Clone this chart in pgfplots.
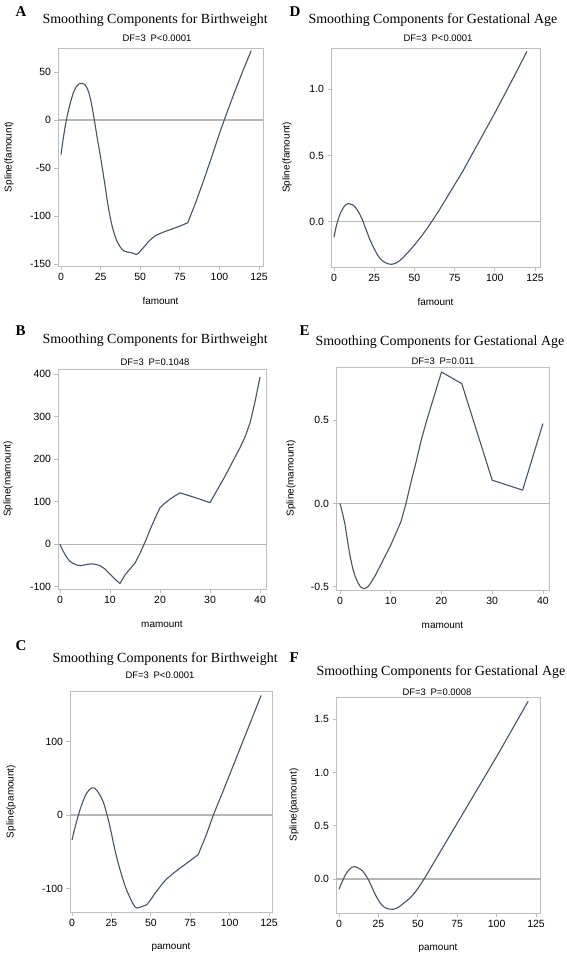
\documentclass[border=0pt]{standalone}
\usepackage{fontspec}
\setmainfont{Liberation Sans}
\newfontfamily\timesfont{Liberation Serif}
\usepackage{pgfplots}
\pgfplotsset{compat=1.18}
\definecolor{curvecol}{RGB}{72,82,106}
\definecolor{axgray}{RGB}{190,190,190}
\definecolor{zerogray}{RGB}{182,182,182}
\pgfplotsset{
 sas/.style={
  scale only axis, anchor=north west,
  axis line style={draw=axgray, line width=1bp},
  tick style={draw=axgray, line width=0.8bp},
  tick align=outside, major tick length=3.5bp,
  xtick pos=bottom, ytick pos=left,
  /pgf/number format/assume math mode=true,
  tick label style={font=\fontsize{10.5}{12}\selectfont},
  label style={font=\fontsize{11}{12}\selectfont},
  every axis x label/.style={at={(axis description cs:0.5,0)}, anchor=center, yshift=-35bp},
 },
 ylab/.style={every axis y label/.style={at={(axis description cs:0,0.5)}, xshift=-#1, rotate=90, anchor=center}},
 dec/.style={yticklabel style={/pgf/number format/.cd, fixed, fixed zerofill, precision=1}},
 crv/.style={curvecol, line width=1.1bp, line join=round},
 zl/.style={zerogray, line width=1.2bp},
}
\newcommand{\ttl}[1]{{\timesfont\fontsize{14}{16}\selectfont #1}}
\newcommand{\lett}[1]{{\timesfont\bfseries\fontsize{15}{16}\selectfont #1}}
\newcommand{\sub}[1]{{\fontsize{9.5}{11}\selectfont #1}}
\begin{document}
\begin{tikzpicture}
\path[use as bounding box] (0,0) rectangle (567bp,-954bp);
% ---------- A ----------
\node[anchor=base west] at (12bp,-16bp) {\lett{A}};
\node[anchor=base west] at (39bp,-23bp) {\ttl{Smoothing Components  for Birthweight}};
\node[anchor=center] at (157bp,-38bp) {\sub{DF=3\enspace P<0.0001}};
\begin{axis}[sas, ylab=49bp, at={(58bp,-48bp)}, width=205bp, height=218bp,
  xmin=-1.9, xmax=127.5, ymin=-152, ymax=75,
  xtick={0,25,...,125}, ytick={-150,-100,-50,0,50},
  xlabel={famount}, ylabel={Spline(famount)}]
\addplot[zl] coordinates {(-5,0) (130,0)};
\addplot[crv] coordinates {(0,-36) (1.25,-21) (2.5,-8) (3.75,3) (5,12) (6.25,20) (7.5,27) (8.75,32) (10,35.5) (11.25,37.5) (12.5,38) (13.75,38) (15,37) (16.25,34) (17.5,29) (18.75,21) (20,10) (21.25,-2) (22.5,-15) (23.75,-27) (25,-39) (26.25,-52) (27.5,-65) (28.75,-79) (30,-92) (31.25,-103) (32.5,-112) (33.75,-119) (35,-125) (36.25,-129) (37.5,-132.5) (38.75,-135) (40,-136.5) (42,-137.5) (44,-138) (46,-139) (47.5,-140) (49,-138.5) (50,-136.5) (52.5,-132) (55,-127) (57.5,-123) (60,-120) (65,-116.5) (70,-113.5) (75,-110.5) (80,-107) (85,-86) (90,-63) (95,-39) (100,-14) (105,9) (110,31) (115,52) (120,72)};
\end{axis}
% ---------- D ----------
\node[anchor=base west] at (286bp,-16bp) {\lett{D}};
\node[anchor=base west] at (305bp,-23bp) {\ttl{Smoothing Components  for Gestational  Age}};
\node[anchor=center] at (438bp,-38bp) {\sub{DF=3\enspace P<0.0001}};
\begin{axis}[sas, dec, ylab=44bp, at={(331bp,-48bp)}, width=209bp, height=219bp,
  xmin=-1.87, xmax=128.1, ymin=-0.34, ymax=1.31,
  xtick={0,25,...,125}, ytick={0,0.5,1},
  xlabel={famount}, ylabel={Spline(famount)}]
\addplot[zl] coordinates {(-5,0) (130,0)};
\addplot[crv] coordinates {(0,-0.115) (1.25,-0.04) (2.5,0.015) (3.75,0.06) (5,0.09) (6.25,0.115) (7.5,0.13) (8.75,0.137) (10,0.135) (11.25,0.13) (12.5,0.12) (13.75,0.102) (15,0.08) (16.25,0.052) (17.5,0.02) (18.75,-0.02) (20,-0.06) (21.25,-0.1) (22.5,-0.14) (23.75,-0.172) (25,-0.203) (26.25,-0.232) (27.5,-0.258) (28.75,-0.277) (30,-0.292) (32,-0.308) (34,-0.317) (36,-0.32) (38,-0.313) (40,-0.3) (42.5,-0.275) (45,-0.242) (47.5,-0.21) (50,-0.175) (52.5,-0.137) (55,-0.098) (57.5,-0.056) (60,-0.012) (65,0.08) (70,0.18) (75,0.28) (80,0.38) (85,0.49) (90,0.6) (95,0.71) (100,0.82) (105,0.935) (110,1.05) (115,1.167) (120,1.285)};
\end{axis}
% ---------- B ----------
\node[anchor=base west] at (12bp,-335bp) {\lett{B}};
\node[anchor=base west] at (39bp,-343bp) {\ttl{Smoothing Components  for Birthweight}};
\node[anchor=center] at (155bp,-362bp) {\sub{DF=3\enspace P=0.1048}};
\begin{axis}[sas, ylab=50bp, at={(58bp,-369bp)}, width=208bp, height=220bp,
  xmin=-0.4, xmax=41.2, ymin=-105, ymax=412,
  xtick={0,10,...,40}, ytick={-100,0,...,400},
  xlabel={mamount}, ylabel={Spline(mamount)}]
\addplot[zl] coordinates {(-5,0) (45,0)};
\addplot[crv] coordinates {(0,0) (0.5,-13) (1,-24) (1.5,-33) (2,-40) (2.5,-44) (3,-47) (3.5,-49) (4,-50) (4.5,-49.5) (5,-48) (6,-46) (7,-46.5) (8,-50) (9,-58) (10,-70) (11,-82) (12,-92) (13,-72) (14,-58) (15,-44) (16,-21) (17,5) (18,34) (19,61) (20,86) (21,97) (22,106) (23,114) (24,121) (27,110) (30,98) (33,160) (36,227) (37,252) (38,285) (39,335) (40,393)};
\end{axis}
% ---------- E ----------
\node[anchor=base west] at (296bp,-335bp) {\lett{E}};
\node[anchor=base west] at (312bp,-345bp) {\ttl{Smoothing Components  for Gestational  Age}};
\node[anchor=center] at (443bp,-361bp) {\sub{DF=3\enspace P=0.011}};
\begin{axis}[sas, dec, ylab=45bp, at={(336bp,-367bp)}, width=213bp, height=223bp,
  xmin=-0.8, xmax=41.2, ymin=-0.52, ymax=0.82,
  xtick={0,10,...,40}, ytick={-0.5,0,0.5},
  xlabel={mamount}, ylabel={Spline(mamount)}]
\addplot[zl] coordinates {(-5,0) (45,0)};
\addplot[crv] coordinates {(0,0) (0.5,-0.06) (1,-0.13) (1.5,-0.23) (2,-0.32) (2.5,-0.39) (3,-0.44) (3.5,-0.475) (4,-0.5) (4.5,-0.51) (5,-0.51) (5.5,-0.5) (6,-0.48) (7,-0.43) (8,-0.37) (9,-0.31) (10,-0.25) (11,-0.18) (12,-0.11) (13,0) (14,0.13) (15,0.25) (16,0.38) (17,0.49) (18,0.59) (19,0.69) (20,0.79) (24,0.72) (30,0.14) (36,0.08) (40,0.48)};
\end{axis}
% ---------- C ----------
\node[anchor=base west] at (12bp,-650bp) {\lett{C}};
\node[anchor=base west] at (49bp,-662bp) {\ttl{Smoothing Components  for Birthweight}};
\node[anchor=center] at (160bp,-675bp) {\sub{DF=3\enspace P<0.0001}};
\begin{axis}[sas, ylab=59bp, at={(70bp,-691bp)}, width=202bp, height=221bp,
  xmin=-1.3, xmax=126.9, ymin=-132, ymax=169,
  xtick={0,25,...,125}, ytick={-100,0,100},
  xlabel={pamount}, ylabel={Spline(pamount)}]
\addplot[zl] coordinates {(-5,0) (130,0)};
\addplot[crv] coordinates {(0,-34) (1.25,-22) (2.5,-12) (3.75,-2) (5,7) (6.25,15) (7.5,22) (8.75,28) (10,32) (11.25,35) (12.5,37) (13.75,37) (15,35.5) (16.25,32) (17.5,28) (18.75,23) (20,17) (21.25,8) (22.5,-2) (23.75,-13) (25,-25) (26.25,-38) (27.5,-50) (28.75,-61) (30,-71) (31.25,-80) (32.5,-89) (33.75,-97) (35,-104) (36.25,-110) (37.5,-116) (38.75,-121) (40,-125) (41.25,-126.5) (42.5,-126) (45,-124) (47.5,-122) (50,-115) (52.5,-107) (55,-100) (57.5,-93) (60,-87) (65,-78) (70,-70) (75,-62) (80,-54) (85,-28) (90,2) (95,28) (100,55) (105,82) (110,109) (115,136) (120,163)};
\end{axis}
% ---------- F ----------
\node[anchor=base west] at (286bp,-662bp) {\lett{F}};
\node[anchor=base west] at (313bp,-675bp) {\ttl{Smoothing Components  for Gestational  Age}};
\node[anchor=center] at (437bp,-692bp) {\sub{DF=3\enspace P=0.0008}};
\begin{axis}[sas, dec, ylab=42bp, at={(336bp,-697bp)}, width=204bp, height=216bp,
  xmin=-1.9, xmax=127.5, ymin=-0.32, ymax=1.71,
  xtick={0,25,...,125}, ytick={0,0.5,1,1.5},
  xlabel={pamount}, ylabel={Spline(pamount)}]
\addplot[zl] coordinates {(-5,0) (130,0)};
\addplot[crv] coordinates {(0,-0.097) (1.25,-0.05) (2.5,-0.01) (3.75,0.03) (5,0.06) (6.25,0.085) (7.5,0.103) (8.75,0.113) (10,0.115) (11.25,0.11) (12.5,0.1) (13.75,0.09) (15,0.075) (16.25,0.05) (17.5,0.022) (18.75,-0.01) (20,-0.05) (21.25,-0.09) (22.5,-0.13) (23.75,-0.167) (25,-0.2) (26.25,-0.228) (27.5,-0.25) (28.75,-0.265) (30,-0.275) (32,-0.283) (34,-0.285) (36,-0.278) (38,-0.263) (40,-0.24) (42.5,-0.21) (45,-0.18) (47.5,-0.14) (50,-0.09) (52.5,-0.035) (55,0.025) (57.5,0.087) (60,0.15) (65,0.275) (70,0.4) (75,0.525) (80,0.65) (85,0.775) (90,0.9) (95,1.025) (100,1.15) (105,1.28) (110,1.41) (115,1.54) (120,1.67)};
\end{axis}
\end{tikzpicture}
\end{document}
